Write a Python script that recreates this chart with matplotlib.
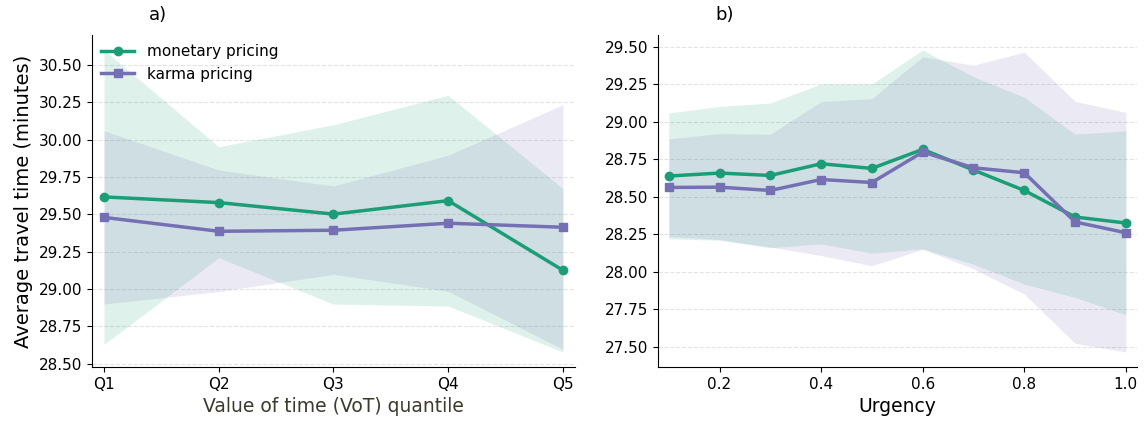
import matplotlib

matplotlib.use("Agg")
import matplotlib.pyplot as plt
import numpy as np

# panel a) - value of time quantiles
vot_labels = ["Q1", "Q2", "Q3", "Q4", "Q5"]
vot_money = [29.617, 29.579, 29.502, 29.592, 29.126]
vot_money_lo = [28.63, 29.21, 28.90, 28.887, 28.579]
vot_money_hi = [30.60, 29.953, 30.10, 30.297, 29.673]
vot_karma = [29.48, 29.387, 29.394, 29.441, 29.414]
vot_karma_lo = [28.90, 28.984, 29.099, 28.986, 28.597]
vot_karma_hi = [30.06, 29.797, 29.69, 29.896, 30.234]

# panel b) - urgency
urgency = [0.1, 0.2, 0.3, 0.4, 0.5, 0.6, 0.7, 0.8, 0.9, 1.0]
urg_money = [28.638, 28.658, 28.642, 28.72, 28.689, 28.816, 28.678, 28.542, 28.365, 28.325]
urg_money_lo = [28.22, 28.21, 28.16, 28.186, 28.124, 28.153, 28.05, 27.918, 27.829, 27.713]
urg_money_hi = [29.058, 29.102, 29.125, 29.252, 29.252, 29.478, 29.30, 29.163, 28.917, 28.939]
urg_karma = [28.562, 28.564, 28.542, 28.615, 28.595, 28.798, 28.693, 28.66, 28.332, 28.26]
urg_karma_lo = [28.235, 28.215, 28.165, 28.108, 28.04, 28.15, 28.02, 27.851, 27.523, 27.465]
urg_karma_hi = [28.886, 28.921, 28.917, 29.134, 29.154, 29.433, 29.377, 29.464, 29.136, 29.062]

GREEN = "#1b9e77"
PURPLE = "#7570b3"

fig = plt.figure(figsize=(11.46, 4.21), dpi=100)
ax1 = fig.add_axes([0.080, 0.128, 0.422, 0.789])
ax2 = fig.add_axes([0.574, 0.128, 0.418, 0.789])


def draw(ax, x, m, m_lo, m_hi, k, k_lo, k_hi):
    ax.fill_between(x, m_lo, m_hi, color=GREEN, alpha=0.14, linewidth=0)
    ax.fill_between(x, k_lo, k_hi, color=PURPLE, alpha=0.14, linewidth=0)
    ax.plot(x, m, color=GREEN, lw=2.5, marker="o", ms=6, label="monetary pricing")
    ax.plot(x, k, color=PURPLE, lw=2.5, marker="s", ms=6, label="karma pricing")
    ax.spines["top"].set_visible(False)
    ax.spines["right"].set_visible(False)
    ax.yaxis.grid(True, linestyle="--", color="#cccccc", alpha=0.55, lw=0.8)
    ax.set_axisbelow(True)
    ax.tick_params(labelsize=11)
    ax.margins(x=0.027, y=0.05)
    ax.yaxis.set_major_formatter(matplotlib.ticker.FormatStrFormatter("%.2f"))


x1 = np.arange(len(vot_labels))
draw(ax1, x1, vot_money, vot_money_lo, vot_money_hi,
     vot_karma, vot_karma_lo, vot_karma_hi)
ax1.set_xticks(x1)
ax1.set_xticklabels(vot_labels)
ax1.set_xlabel("Value of time (VoT) quantile", fontsize=13.5, color="#3b3a2e")
ax1.set_ylabel("Average travel time (minutes)", fontsize=14)
ax1.legend(loc="upper left", frameon=False, fontsize=11,
           borderaxespad=0.2, handlelength=2.2)
ax1.text(0.137, 1.045, "a)", transform=ax1.transAxes, ha="center", fontsize=13)

draw(ax2, urgency, urg_money, urg_money_lo, urg_money_hi,
     urg_karma, urg_karma_lo, urg_karma_hi)
ax2.set_xticks([0.2, 0.4, 0.6, 0.8, 1.0])
ax2.set_xticklabels(["0.2", "0.4", "0.6", "0.8", "1.0"])
ax2.margins(x=0.024)
ax2.set_xlabel("Urgency", fontsize=13.5)
ax2.text(0.14, 1.045, "b)", transform=ax2.transAxes, ha="center", fontsize=13)

fig.savefig("out.png", dpi=100)
plt.close(fig)
